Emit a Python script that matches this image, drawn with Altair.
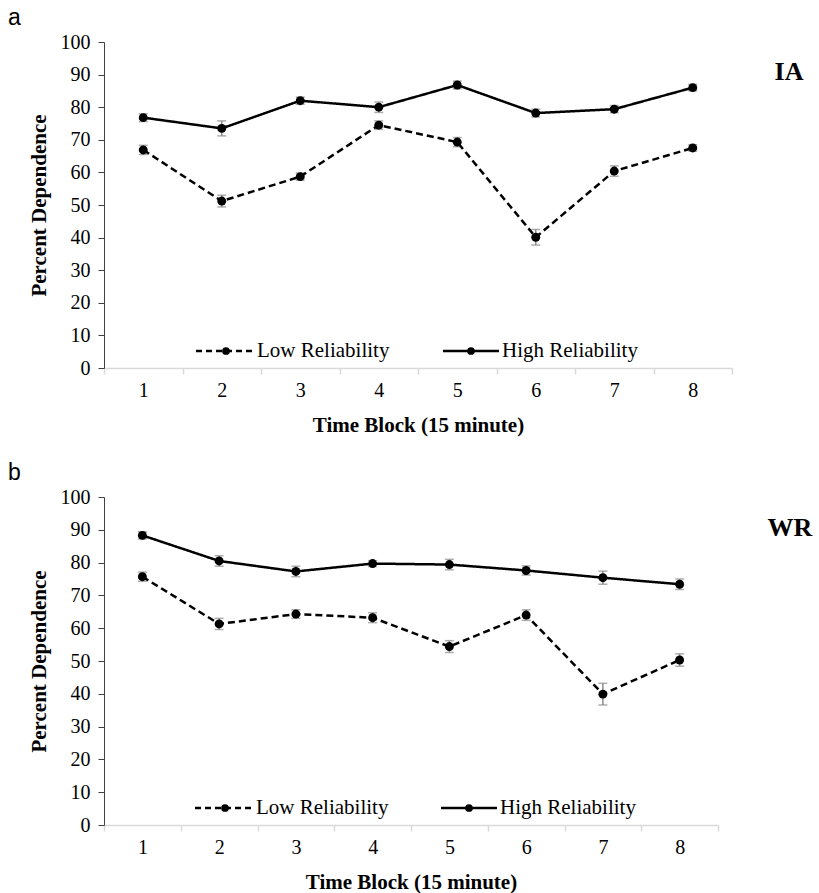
import altair as alt
import pandas as pd

blocks = [1, 2, 3, 4, 5, 6, 7, 8]
series_names = ["Low Reliability", "High Reliability"]

ia_high = [76.8, 73.5, 82.0, 80.0, 86.8, 78.2, 79.4, 86.0]
ia_high_err = [1.2, 2.3, 1.1, 1.6, 1.2, 1.2, 1.1, 1.0]
ia_low = [66.9, 51.2, 58.7, 74.5, 69.3, 40.1, 60.4, 67.5]
ia_low_err = [1.4, 1.8, 1.1, 1.3, 1.4, 2.4, 1.6, 1.0]

wr_high = [88.3, 80.5, 77.3, 79.7, 79.4, 77.6, 75.4, 73.4]
wr_high_err = [1.1, 1.6, 1.6, 0.9, 1.6, 1.4, 2.0, 1.6]
wr_low = [75.7, 61.3, 64.3, 63.2, 54.4, 64.0, 39.9, 50.3]
wr_low_err = [1.4, 1.7, 1.3, 1.5, 1.8, 1.6, 3.3, 1.9]

SERIF = "Liberation Serif"
SANS = "Liberation Sans"


def make_df(high, high_err, low, low_err):
    rows = []
    for name, vals, errs in [("Low Reliability", low, low_err), ("High Reliability", high, high_err)]:
        for b, v, e in zip(blocks, vals, errs):
            rows.append({"block": b, "series": name, "value": v, "lo": v - e, "hi": v + e})
    return pd.DataFrame(rows)


def panel(high, high_err, low, low_err, letter, tag, width, height, tag_pos, legend_pos):
    df = make_df(high, high_err, low, low_err)
    xaxis = alt.Axis(
        title="Time Block (15 minute)",
        labelAngle=0, tickBand="extent", grid=False,
        domainColor="#d9d9d9", domainWidth=1.5, tickColor="#d9d9d9", tickWidth=1.5, tickSize=6,
        labelFont=SERIF, labelFontSize=20, labelColor="black", labelPadding=6,
        titleFont=SERIF, titleFontSize=21, titleFontWeight="bold", titleColor="black", titlePadding=14,
    )
    xenc = alt.X("block:O", scale=alt.Scale(paddingInner=0, paddingOuter=0), axis=xaxis)
    yaxis = alt.Axis(
        title="Percent Dependence", values=list(range(0, 101, 10)), grid=False,
        domainColor="#404040", tickColor="#404040", tickSize=6,
        labelFont=SERIF, labelFontSize=20, labelColor="black", labelPadding=8,
        titleFont=SERIF, titleFontSize=21, titleFontWeight="bold", titleColor="black", titlePadding=11,
    )
    yscale = alt.Scale(domain=[0, 100], nice=False)
    base = alt.Chart(df)
    dash = alt.StrokeDash("series:N", scale=alt.Scale(domain=series_names, range=[[7, 4], [1, 0]]), legend=None)

    err = base.mark_rule(color="#8c8c8c", strokeWidth=1.5).encode(
        x=xenc, y=alt.Y("lo:Q", scale=yscale, axis=yaxis), y2="hi:Q")
    cap_lo = base.mark_tick(color="#8c8c8c", size=9, thickness=1.5).encode(
        x=xenc, y=alt.Y("lo:Q", scale=yscale, axis=yaxis))
    cap_hi = base.mark_tick(color="#8c8c8c", size=9, thickness=1.5).encode(
        x=xenc, y=alt.Y("hi:Q", scale=yscale, axis=yaxis))
    line = base.mark_line(color="black", strokeWidth=2.5).encode(
        x=xenc, y=alt.Y("value:Q", scale=yscale, axis=yaxis), strokeDash=dash, detail="series:N")
    pts = base.mark_circle(color="black", size=80, opacity=1).encode(
        x=xenc, y=alt.Y("value:Q", scale=yscale, axis=yaxis))

    lx = legend_pos[0]
    ly = legend_pos[1]
    leg_df = pd.DataFrame({"series": series_names})
    leg = alt.Chart(leg_df)
    low_only = leg.transform_filter(alt.datum.series == "Low Reliability")
    high_only = leg.transform_filter(alt.datum.series == "High Reliability")
    leg_low_line = low_only.mark_rule(color="black", strokeWidth=2.5, strokeDash=[6, 4]).encode(
        x=alt.value(lx[0]), x2=alt.value(lx[0] + 56), y=alt.value(ly))
    leg_low_pt = low_only.mark_circle(color="black", size=60, opacity=1).encode(
        x=alt.value(lx[0] + 30), y=alt.value(ly))
    leg_low_txt = low_only.mark_text(
        font=SERIF, fontSize=21, align="left", baseline="middle", color="black").encode(
        x=alt.value(lx[0] + 61), y=alt.value(ly), text="series:N")
    leg_high_line = high_only.mark_rule(color="black", strokeWidth=2.5).encode(
        x=alt.value(lx[1]), x2=alt.value(lx[1] + 56), y=alt.value(ly))
    leg_high_pt = high_only.mark_circle(color="black", size=60, opacity=1).encode(
        x=alt.value(lx[1] + 28), y=alt.value(ly))
    leg_high_txt = high_only.mark_text(
        font=SERIF, fontSize=21, align="left", baseline="middle", color="black").encode(
        x=alt.value(lx[1] + 59), y=alt.value(ly), text="series:N")

    tag_txt = low_only.mark_text(
        font=SERIF, fontSize=26, fontWeight="bold", align="center", baseline="middle", color="black",
        text=tag).encode(x=alt.value(tag_pos[0]), y=alt.value(tag_pos[1]))

    return alt.layer(
        err, cap_lo, cap_hi, line, pts,
        leg_low_line, leg_low_pt, leg_low_txt, leg_high_line, leg_high_pt, leg_high_txt, tag_txt,
    ).properties(
        width=width, height=height,
        title=alt.TitleParams(letter, anchor="start", frame="bounds", font=SANS, fontSize=23,
                              fontWeight="normal", color="black", offset=2, dx=-20),
    )


top = panel(ia_high, ia_high_err, ia_low, ia_low_err, "a", "IA", 628, 326, (685, 30), ((92, 339), 309))
bottom = panel(wr_high, wr_high_err, wr_low, wr_low_err, "b", "WR", 614, 328, (686, 31), ((91, 337), 311))

chart = alt.vconcat(top, bottom, spacing=27).resolve_scale(x="independent", y="independent").configure(
    padding={"left": 8, "top": 7, "right": 5, "bottom": 5}
).configure_view(stroke=None)

chart.save("out.html", embed_options={"renderer": "svg", "actions": False})
